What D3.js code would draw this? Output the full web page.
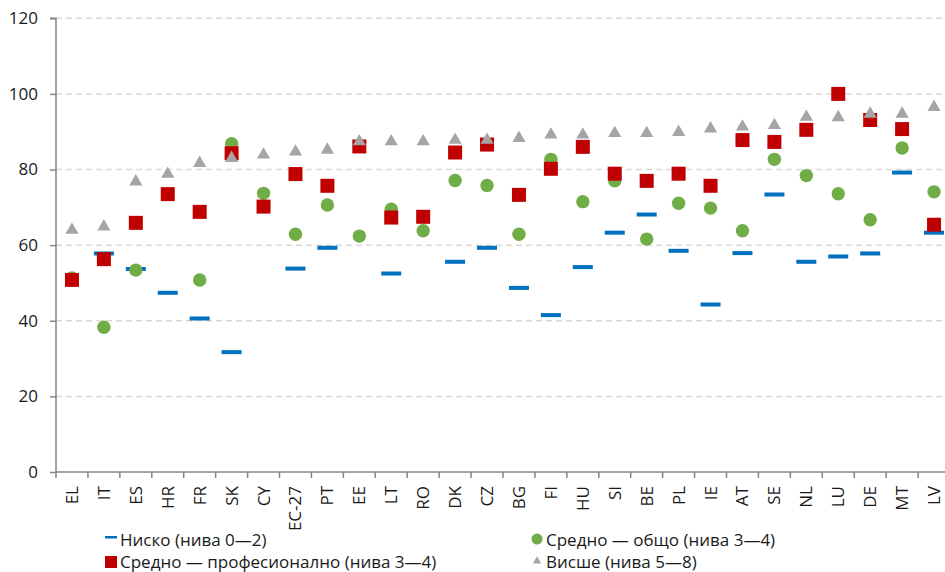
<!DOCTYPE html>
<html>
<head>
<meta charset="utf-8">
<script src="https://cdn.jsdelivr.net/npm/d3@7"></script>
<style>
  html, body { margin: 0; padding: 0; background: #fff; }
  svg { display: block; }
  text { font-family: "Open Sans", "Noto Sans", sans-serif; fill: #1a1a1a; }
</style>
</head>
<body>
<svg id="chart" width="945" height="572"></svg>
<script>
const categories = ["EL","IT","ES","HR","FR","SK","CY","EC-27","PT","EE","LT","RO","DK","CZ","BG","FI","HU","SI","BE","PL","IE","AT","SE","NL","LU","DE","MT","LV"];
const lowValues = [null,57.8,53.7,47.4,40.6,31.7,null,53.8,59.3,null,52.5,null,55.6,59.3,48.7,41.5,54.2,63.3,68.1,58.5,44.3,57.9,73.4,55.6,57.0,57.8,79.2,63.3];
const generalValues = [51.3,38.3,53.4,null,50.8,86.8,73.7,62.9,70.6,62.4,69.5,63.8,77.1,75.8,62.9,82.7,71.5,77.0,61.6,71.1,69.8,63.8,82.7,78.4,73.6,66.7,85.7,74.1];
const vocationalValues = [50.8,56.3,65.9,73.5,68.8,84.3,70.2,78.8,75.7,86.1,67.3,67.5,84.5,86.6,73.3,80.2,86.0,78.9,77.0,78.9,75.7,87.8,87.3,90.5,100.0,93.1,90.7,65.4];
const higherValues = [64.0,64.9,76.8,78.8,81.7,83.0,83.9,84.7,85.2,87.4,87.4,87.4,87.8,87.8,88.3,89.2,89.2,89.6,89.6,89.9,90.8,91.3,91.7,93.9,93.8,94.7,94.7,96.5];
const yTicks = [0,20,40,60,80,100,120];
const legendLabels = ["Ниско (нива 0—2)", "Средно — общо (нива 3—4)", "Средно — професионално (нива 3—4)", "Висше (нива 5—8)"];

const colors = { low: "#0070C0", general: "#70AD47", vocational: "#C00000", higher: "#A5A5A5" };

const svg = d3.select("#chart");
const plotLeft = 56, plotRight = 950, plotTop = 18.3, plotBottom = 472;

const x = d3.scaleBand().domain(categories).range([plotLeft, plotRight]).padding(0);
const y = d3.scaleLinear().domain([0, 120]).range([plotBottom, plotTop]);

// gridlines
svg.append("g").selectAll("line").data(yTicks.filter(d => d > 0)).join("line")
  .attr("x1", plotLeft).attr("x2", 945)
  .attr("y1", d => y(d)).attr("y2", d => y(d))
  .attr("stroke", "#d9d9d9").attr("stroke-width", 1.5).attr("stroke-dasharray", "6,4");

// Y axis
const yAxis = d3.axisLeft(y).tickValues(yTicks).tickSize(6).tickPadding(12).tickFormat(d3.format("d"));
const gy = svg.append("g").attr("transform", `translate(${plotLeft},0)`).call(yAxis);
gy.select(".domain").attr("stroke", "#868686").attr("stroke-width", 1.5).attr("d", `M-6,${plotTop}H0V${plotBottom}`);
gy.selectAll(".tick line").attr("stroke", "#868686").attr("stroke-width", 1.5);
gy.selectAll(".tick text").attr("font-size", 17).attr("font-family", "Open Sans").attr("fill", "#1a1a1a");

// X axis line
svg.append("line").attr("x1", plotLeft).attr("x2", 945).attr("y1", plotBottom).attr("y2", plotBottom)
  .attr("stroke", "#868686").attr("stroke-width", 1.5);
// boundary ticks
const boundaries = categories.map(c => x(c)).concat([plotRight]);
svg.append("g").selectAll("line").data(boundaries).join("line")
  .attr("x1", d => d).attr("x2", d => d).attr("y1", plotBottom).attr("y2", plotBottom + 6)
  .attr("stroke", "#868686").attr("stroke-width", 1.5);
// x labels
svg.append("g").selectAll("text").data(categories).join("text")
  .attr("transform", d => `translate(${x(d) + x.bandwidth() / 2 + 6},${plotBottom + 14}) rotate(-90)`)
  .attr("text-anchor", "end")
  .attr("font-size", 17)
  .text(d => d);

const cx = i => x(categories[i]) + x.bandwidth() / 2;

// low: dashes
svg.append("g").selectAll("rect").data(lowValues.map((v, i) => ({ v, i })).filter(d => d.v != null)).join("rect")
  .attr("x", d => cx(d.i) - 10).attr("y", d => y(d.v) - 2)
  .attr("width", 20).attr("height", 4).attr("fill", colors.low);

// general: circles
svg.append("g").selectAll("circle").data(generalValues.map((v, i) => ({ v, i })).filter(d => d.v != null)).join("circle")
  .attr("cx", d => cx(d.i)).attr("cy", d => y(d.v)).attr("r", 6.7).attr("fill", colors.general);

// vocational: squares
svg.append("g").selectAll("rect").data(vocationalValues.map((v, i) => ({ v, i })).filter(d => d.v != null)).join("rect")
  .attr("x", d => cx(d.i) - 7).attr("y", d => y(d.v) - 7)
  .attr("width", 14).attr("height", 14).attr("fill", colors.vocational);

// higher: triangles
const tri = d3.symbol().type(d3.symbolTriangle).size(75);
svg.append("g").selectAll("path").data(higherValues.map((v, i) => ({ v, i })).filter(d => d.v != null)).join("path")
  .attr("transform", d => `translate(${cx(d.i)},${y(d.v)})`)
  .attr("d", tri).attr("fill", colors.higher);

// legend
const lg = svg.append("g");
const legendItems = [
  { label: legendLabels[0], x: 105, y: 546, type: "low" },
  { label: legendLabels[1], x: 531, y: 546, type: "general" },
  { label: legendLabels[2], x: 105, y: 568, type: "vocational" },
  { label: legendLabels[3], x: 531, y: 568, type: "higher" }
];
legendItems.forEach(it => {
  const g = lg.append("g");
  if (it.type === "low") {
    g.append("rect").attr("x", it.x).attr("y", it.y - 10).attr("width", 12).attr("height", 2.5).attr("fill", colors.low);
  } else if (it.type === "vocational") {
    g.append("rect").attr("x", it.x).attr("y", it.y - 12).attr("width", 12).attr("height", 12).attr("fill", colors.vocational);
  } else if (it.type === "general") {
    g.append("circle").attr("cx", it.x + 6).attr("cy", it.y - 7).attr("r", 5.5).attr("fill", colors.general);
  } else {
    g.append("path").attr("transform", `translate(${it.x + 6},${it.y - 7})`)
      .attr("d", d3.symbol().type(d3.symbolTriangle).size(30)).attr("fill", colors.higher);
  }
  g.append("text").attr("x", it.x + 15).attr("y", it.y).attr("font-size", 17).text(it.label);
});
</script>
</body>
</html>
